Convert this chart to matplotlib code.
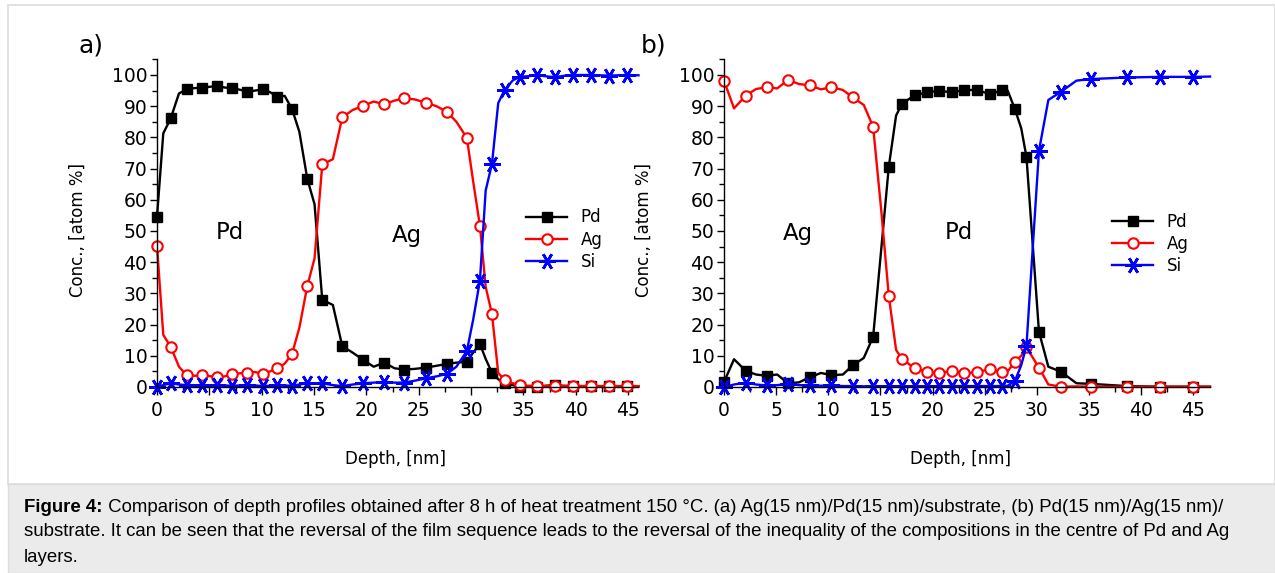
import matplotlib
matplotlib.use('Agg')
import matplotlib.pyplot as plt
from matplotlib.ticker import MultipleLocator
from matplotlib.patches import Rectangle

# ---------------- data : panel a) ----------------
depth_a = [0, 0.6, 1.31, 2.1, 2.83, 3.55, 4.26, 5.0, 5.7, 6.45, 7.2, 7.9, 8.63, 9.35,
           10.1, 10.8, 11.5, 12.2, 12.9, 13.6, 14.36, 15.05, 15.79, 16.8, 17.7, 18.7,
           19.7, 20.7, 21.7, 22.7, 23.6, 24.6, 25.7, 26.7, 27.7, 28.6, 29.6, 30.2,
           30.85, 31.4, 32.0, 32.6, 33.2, 34.0, 34.7, 35.5, 36.3, 37.1, 38.0, 38.8,
           39.7, 40.6, 41.5, 42.3, 43.2, 44.0, 44.9, 46.0]
pd_a = [54.6, 81.3, 86.1, 94.1, 95.4, 95.8, 95.9, 96.2, 96.5, 96.0, 95.7, 95.3, 94.7, 95.0,
        95.4, 94.5, 93.0, 93.3, 89.1, 81.8, 66.7, 58.6, 27.9, 26.3, 13.1, 11.0,
        8.7, 6.5, 7.8, 6.0, 5.6, 5.8, 6.2, 6.8, 7.4, 7.8, 8.1, 11.0,
        13.8, 9.0, 4.6, 2.5, 1.2, 0.6, 0.0, 0.2, 0.0, 0.4, 0.6, 0.4,
        0.3, 0.3, 0.3, 0.2, 0.3, 0.2, 0.3, 0.2]
ag_a = [45.2, 16.7, 12.9, 6.5, 3.8, 3.6, 3.8, 3.5, 3.1, 3.4, 4.1, 4.4, 4.6, 4.8,
        4.2, 5.0, 6.0, 7.5, 10.6, 19.0, 32.4, 41.2, 71.4, 73.0, 86.4, 88.8,
        90.1, 91.5, 90.6, 91.8, 92.5, 92.2, 91.1, 90.0, 88.2, 85.0, 79.9, 66.0,
        51.7, 32.1, 23.4, 4.5, 2.2, 1.2, 0.5, 0.4, 0.3, 0.3, 0.3, 0.3,
        0.3, 0.3, 0.3, 0.3, 0.3, 0.3, 0.3, 0.3]
si_a = [0.1, 0.6, 1.2, 0.8, 0.6, 0.5, 0.6, 0.5, 0.6, 0.5, 0.4, 0.5, 0.6, 0.5,
        0.3, 0.4, 0.6, 0.5, 0.4, 0.8, 1.2, 1.1, 1.2, 0.6, 0.3, 0.8,
        1.2, 1.4, 1.6, 1.4, 1.4, 2.0, 2.8, 3.4, 4.2, 6.5, 11.5, 21.5,
        34.1, 63.0, 71.5, 91.0, 95.2, 98.3, 99.5, 99.6, 100.0, 99.6, 99.3, 99.7,
        100.0, 100.0, 100.0, 99.9, 99.8, 99.9, 100.0, 99.9]
marks_a = list(range(0, 57, 2))

# ---------------- data : panel b) ----------------
depth_b = [0, 0.96, 2.08, 3.07, 4.1, 5.1, 6.14, 7.2, 8.2, 9.3, 10.3, 11.4, 12.35, 13.4,
           14.3, 15.1, 15.8, 16.5, 17.05, 18.3, 19.45, 20.6, 21.85, 23.0, 24.3, 25.5,
           26.7, 27.2, 27.9, 28.5, 29.0, 30.2, 31.1, 32.3, 33.8, 35.2, 38.6, 41.8,
           45.0, 46.6]
pd_b = [1.6, 8.9, 5.2, 4.0, 3.6, 4.0, 1.2, 1.5, 3.1, 4.5, 3.8, 4.0, 7.0, 9.3,
        16.1, 45.0, 70.6, 87.0, 90.7, 93.6, 94.4, 95.0, 94.4, 95.2, 95.2, 93.8,
        95.2, 95.0, 89.0, 82.9, 73.8, 17.7, 6.5, 4.9, 1.2, 1.0, 0.3, 0.1,
        0.1, 0.1]
ag_b = [98.2, 89.3, 93.4, 95.5, 96.1, 95.7, 98.4, 97.1, 96.7, 95.4, 96.1, 95.2, 92.8, 90.4,
        83.4, 55.8, 29.2, 11.9, 9.0, 6.0, 4.9, 4.4, 5.2, 4.4, 4.8, 5.7,
        4.7, 5.0, 8.1, 10.0, 12.7, 6.2, 0.8, 0.1, 0.2, 0.1, 0.1, 0.1,
        0.1, 0.1]
si_b = [0.0, 0.8, 1.4, 0.8, 0.5, 0.6, 1.0, 0.6, 0.5, 0.4, 0.5, 0.3, 0.3, 0.2,
        0.2, 0.2, 0.2, 0.2, 0.2, 0.2, 0.2, 0.2, 0.3, 0.3, 0.3, 0.3,
        0.3, 0.4, 2.0, 7.0, 13.1, 75.7, 92.0, 94.6, 98.2, 98.7, 99.2, 99.4,
        99.4, 99.5]
marks_b = [0, 2, 4, 6, 8, 10, 12, 14, 16, 18, 19, 20, 21, 22, 23, 24, 25, 26,
           28, 30, 31, 33, 35, 36, 37, 38]

series_names = ['Pd', 'Ag', 'Si']
x_ticks = [0, 5, 10, 15, 20, 25, 30, 35, 40, 45]
y_ticks = [0, 10, 20, 30, 40, 50, 60, 70, 80, 90, 100]

W, H = 1275, 573
fig = plt.figure(figsize=(W / 100, H / 100), dpi=100)

# frame and caption box
fig.patches.append(Rectangle((8 / W, (H - 484) / H), 1 - 8 / W, (484 - 5) / H,
                             transform=fig.transFigure, facecolor='white',
                             edgecolor='#dcdcdc', lw=1.2, zorder=-10))
fig.patches.append(Rectangle((8 / W, 0), 1 - 8 / W, (H - 484) / H,
                             transform=fig.transFigure, facecolor='#ebebeb',
                             edgecolor='#dcdcdc', lw=1.0, zorder=-10))

TICKFS = 13.5
LABFS = 12

styles = {
    'Pd': dict(color='black', marker='s', ms=6.5, mfc='black', mec='black', mew=1),
    'Ag': dict(color='red', marker='o', ms=7.5, mfc='white', mec='red', mew=1.5),
    'Si': dict(color='blue', marker=(6, 2, 90), ms=12, mfc='blue', mec='blue', mew=1.9),
}


def make_panel(rect, xlab, xmax, depth, pd, ag, si, marks, texts, leg_anchor, tag, tagpos):
    ax = fig.add_axes(rect)
    for name, vals in zip(series_names, [pd, ag, si]):
        ax.plot(depth, vals, lw=1.7, markevery=marks, clip_on=False,
                label=name, **styles[name])
    ax.set_xlim(0, xmax)
    ax.set_ylim(0, 105)
    for s in ['top', 'right']:
        ax.spines[s].set_visible(False)
    ax.spines['left'].set_linewidth(1.0)
    ax.spines['bottom'].set_linewidth(1.0)
    ax.set_xticks(x_ticks)
    ax.set_yticks(y_ticks)
    ax.xaxis.set_minor_locator(MultipleLocator(2.5))
    ax.yaxis.set_minor_locator(MultipleLocator(5))
    ax.tick_params(axis='x', which='major', direction='out', length=6, width=1,
                   labelsize=TICKFS, pad=4)
    ax.tick_params(axis='x', which='minor', direction='out', length=3.5, width=1)
    ax.tick_params(axis='y', which='major', direction='out', length=5, width=1,
                   labelsize=TICKFS, pad=2)
    ax.tick_params(axis='y', which='minor', direction='out', length=3.5, width=1)
    ax.set_xlabel('Depth, [nm]', fontsize=LABFS)
    ax.set_ylabel('Conc., [atom %]', fontsize=LABFS)
    ax.xaxis.set_label_coords(xlab, -0.192)
    ax.yaxis.set_label_coords(-0.146, 0.479)
    for (tx, ty, s) in texts:
        ax.text(tx, ty, s, fontsize=16.5, ha='center', va='center')
    ax.legend(loc='upper left', bbox_to_anchor=leg_anchor, frameon=False,
              fontsize=12, handlelength=2.5, handletextpad=0.8, labelspacing=0.25,
              borderpad=0, borderaxespad=0)
    fig.text(tagpos[0] / W, 1 - tagpos[1] / H, tag, fontsize=18, ha='center', va='center')
    return ax


def rect_px(x0, x1, y0=387, y1=59.4):
    return [x0 / W, (H - y0) / H, (x1 - x0) / W, (y0 - y1) / H]


make_panel(rect_px(157, 638.5), 0.495, 46.0, depth_a, pd_a, ag_a, si_a, marks_a,
           [(7.0, 49.5, 'Pd'), (23.85, 48.7, 'Ag')], (0.766, 0.545), 'a)', (91, 45))
make_panel(rect_px(724, 1210), 0.486, 46.6, depth_b, pd_b, ag_b, si_b, marks_b,
           [(7.13, 49.3, 'Ag'), (22.5, 49.4, 'Pd')], (0.798, 0.532), 'b)', (654, 45))

# caption
CAPFS = 13.4
cap_family = 'Liberation Sans'
renderer = fig.canvas.get_renderer()
x0 = 24 / W
t_bold = fig.text(x0, 1 - 507 / H, 'Figure 4:', fontsize=CAPFS, fontweight='bold',
                  family=cap_family, va='center', ha='left')
bb = t_bold.get_window_extent(renderer=renderer)
fig.text(bb.x1 / W, 1 - 507 / H,
         ' Comparison of depth profiles obtained after 8 h of heat treatment 150 \u00b0C. '
         '(a) Ag(15 nm)/Pd(15 nm)/substrate, (b) Pd(15 nm)/Ag(15 nm)/',
         fontsize=CAPFS, family=cap_family, va='center', ha='left')
fig.text(x0, 1 - 532 / H,
         'substrate. It can be seen that the reversal of the film sequence leads to the '
         'reversal of the inequality of the compositions in the centre of Pd and Ag',
         fontsize=CAPFS, family=cap_family, va='center', ha='left')
fig.text(x0, 1 - 557 / H, 'layers.', fontsize=CAPFS, family=cap_family,
         va='center', ha='left')

fig.savefig('out.png', dpi=100)
